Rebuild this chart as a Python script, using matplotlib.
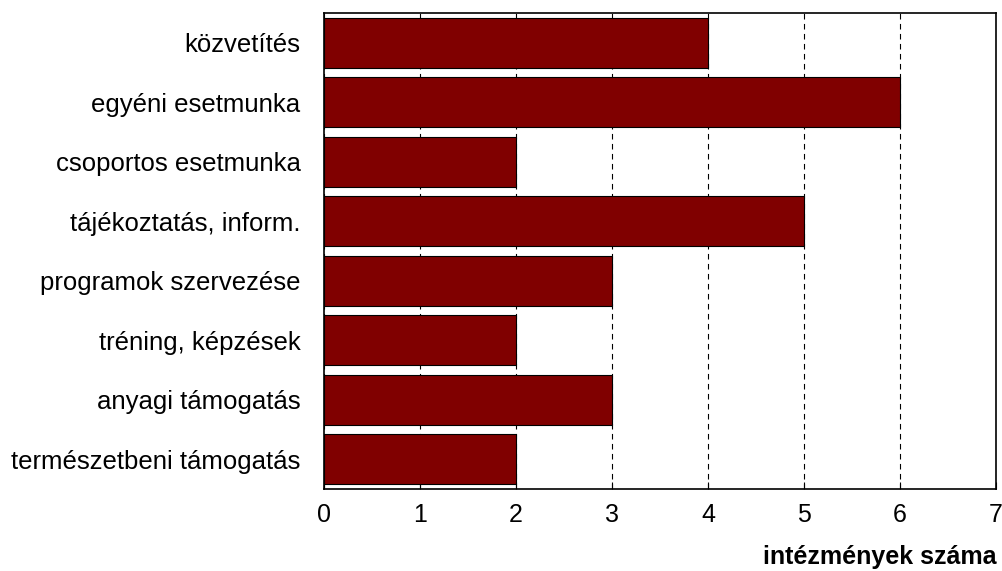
import matplotlib
matplotlib.use("Agg")
import matplotlib.pyplot as plt

categories = ["közvetítés", "egyéni esetmunka", "csoportos esetmunka",
              "tájékoztatás, inform.", "programok szervezése",
              "tréning, képzések", "anyagi támogatás", "természetbeni támogatás"]
values = [4, 6, 2, 5, 3, 2, 3, 2]

plt.rcParams["font.family"] = ["Liberation Sans", "DejaVu Sans"]

fig = plt.figure(figsize=(10.03, 5.71), dpi=100)
ax = fig.add_axes([324 / 1003, 1 - 489 / 571, 672 / 1003, 476 / 571])

pos = list(range(len(categories)))
ax.barh(pos, values, height=0.84, color="#800000", edgecolor="black", linewidth=0.8, zorder=3)
ax.set_ylim(len(categories) - 0.5, -0.5)
ax.set_xlim(0, 7)
ax.set_xticks(range(8))
ax.set_yticks(pos)
ax.set_yticklabels(categories, fontsize=18.5)
ax.tick_params(axis="x", direction="in", labelsize=18, pad=10, length=5)
ax.tick_params(axis="y", length=0, pad=17)
ax.grid(axis="x", color="black", linestyle=(0, (5, 4)), linewidth=0.8, zorder=0)
for s in ax.spines.values():
    s.set_linewidth(1.2)

fig.text(997 / 1003, 1 - 557 / 571, "intézmények száma", ha="right", va="center",
         fontsize=18, fontweight="bold")

fig.savefig("out.png", dpi=100)
